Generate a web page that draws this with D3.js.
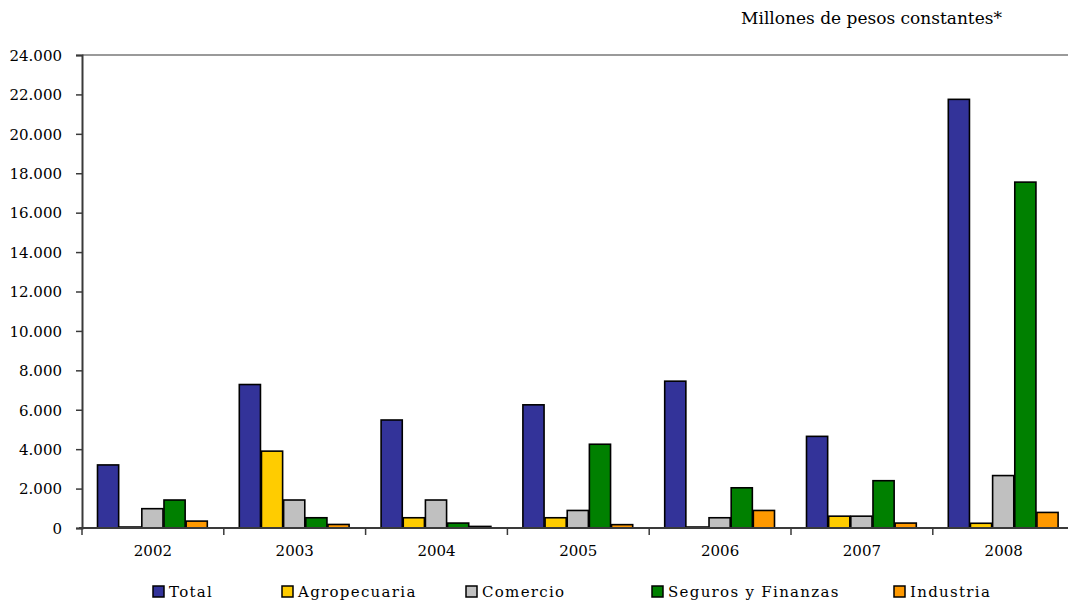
<!DOCTYPE html>
<html>
<head>
<meta charset="utf-8">
<script src="https://cdn.jsdelivr.net/npm/d3@7"></script>
<style>
  html, body { margin: 0; padding: 0; background: #fff; }
  svg { display: block; }
</style>
</head>
<body>
<svg id="chart" width="1068" height="603"></svg>
<script>
const years = ["2002", "2003", "2004", "2005", "2006", "2007", "2008"];
const seriesNames = ["Total", "Agropecuaria", "Comercio", "Seguros y Finanzas", "Industria"];
const seriesColors = ["#333399", "#FFCC00", "#C0C0C0", "#008000", "#FF9900"];
const total = [3200, 7280, 5480, 6250, 7450, 4650, 21750];
const agropecuaria = [50, 3900, 520, 520, 50, 600, 240];
const comercio = [980, 1420, 1420, 890, 520, 600, 2660];
const seguros = [1420, 520, 250, 4250, 2040, 2400, 17550];
const industria = [350, 180, 80, 170, 890, 250, 790];
const yTicks = [0, 2000, 4000, 6000, 8000, 10000, 12000, 14000, 16000, 18000, 20000, 22000, 24000];
const titleText = "Millones de pesos constantes*";

const seriesValues = [total, agropecuaria, comercio, seguros, industria];

const svg = d3.select("#chart");
const left = 82, bandW = 141.8, y0 = 528, yTop = 55;

const x = d3.scaleBand().domain(years).range([left, left + bandW * years.length]).padding(0);
const x1 = d3.scaleBand().domain(seriesNames).range([15, bandW - 16]).padding(0);
const y = d3.scaleLinear().domain([0, 24000]).range([y0, yTop]);

const fmt = v => d3.format(",")(v).replace(/,/g, ".");

// top border line
svg.append("line")
  .attr("x1", left).attr("x2", 1068)
  .attr("y1", y(24000)).attr("y2", y(24000))
  .attr("stroke", "#9a9a9a").attr("stroke-width", 2);

// bars
const groups = svg.append("g").selectAll("g")
  .data(years)
  .join("g")
  .attr("transform", d => `translate(${x(d)},0)`);

groups.selectAll("rect")
  .data((d, i) => seriesNames.map((s, j) => ({ s, j, v: seriesValues[j][i] })))
  .join("rect")
  .attr("x", d => x1(d.s) + 0.5)
  .attr("width", x1.bandwidth() - 1)
  .attr("y", d => y(d.v))
  .attr("height", d => y0 - y(d.v))
  .attr("fill", d => seriesColors[d.j])
  .attr("stroke", "#000")
  .attr("stroke-width", 1.6);

// y axis
const yAxis = svg.append("g")
  .attr("transform", `translate(${left},0)`)
  .call(d3.axisLeft(y).tickValues(yTicks).tickFormat(fmt).tickSize(6).tickPadding(14));
yAxis.select(".domain").attr("stroke", "#3a3a3a").attr("stroke-width", 2);
yAxis.selectAll(".tick line").attr("stroke", "#3a3a3a").attr("stroke-width", 1.5);
yAxis.selectAll("text")
  .attr("font-family", "'DejaVu Serif', serif")
  .attr("font-size", 15)
  .attr("fill", "#000")
  .attr("dy", "0.35em");

// x axis
const xAxis = svg.append("g")
  .attr("transform", `translate(0,${y0})`)
  .call(d3.axisBottom(x).tickSize(0).tickPadding(17));
xAxis.select(".domain").remove();
xAxis.selectAll("text")
  .attr("font-family", "'DejaVu Serif', serif")
  .attr("font-size", 15)
  .attr("fill", "#000");
svg.append("line")
  .attr("x1", left - 3).attr("x2", 1068)
  .attr("y1", y0).attr("y2", y0)
  .attr("stroke", "#3a3a3a").attr("stroke-width", 2);
svg.append("g").selectAll("line")
  .data(years)
  .join("line")
  .attr("x1", d => x(d)).attr("x2", d => x(d))
  .attr("y1", y0).attr("y2", y0 + 7)
  .attr("stroke", "#3a3a3a").attr("stroke-width", 1.5);

// title
svg.append("text")
  .attr("x", 1002).attr("y", 24)
  .attr("text-anchor", "end")
  .attr("font-family", "'DejaVu Serif', serif")
  .attr("font-size", 17)
  .attr("fill", "#000")
  .text(titleText);

// legend
const legendX = [153, 282, 466, 652, 894];
const legend = svg.append("g").selectAll("g")
  .data(seriesNames)
  .join("g")
  .attr("transform", (d, i) => `translate(${legendX[i]},586)`);
legend.append("rect")
  .attr("width", 11).attr("height", 11)
  .attr("fill", (d, i) => seriesColors[i])
  .attr("stroke", "#000").attr("stroke-width", 1.5);
legend.append("text")
  .attr("x", 16).attr("y", 11)
  .attr("font-family", "'DejaVu Serif', serif")
  .attr("font-size", 15)
  .attr("letter-spacing", 1.3)
  .attr("fill", "#000")
  .text(d => d);
</script>
</body>
</html>
